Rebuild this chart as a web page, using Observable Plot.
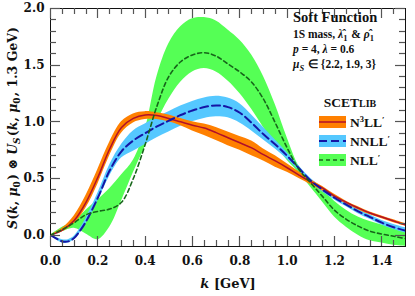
<!DOCTYPE html>
<html><head><meta charset="utf-8">
<script src="https://cdn.jsdelivr.net/npm/d3@7"></script>
<script src="https://cdn.jsdelivr.net/npm/@observablehq/plot@0.6"></script>
<style>
html,body{margin:0;padding:0;background:#fff;}
#wrap{position:relative;width:415px;height:296px;}
#wrap svg{position:absolute;left:0;top:0;}
</style></head><body><div id="wrap"></div>
<script>
// k grid (GeV)
const kGrid = [0,0.05,0.1,0.15,0.2,0.25,0.3,0.35,0.4,0.45,0.5,0.55,0.6,0.65,0.7,0.75,0.8,0.85,0.9,0.95,1.0,1.05,1.1,1.15,1.2,1.25,1.3,1.35,1.4,1.45,1.5];
// N3LL' central and band
const n3ll   = [0,0.045,0.13,0.29,0.51,0.76,0.95,1.03,1.06,1.055,1.03,1.0,0.97,0.945,0.905,0.86,0.815,0.77,0.71,0.655,0.595,0.53,0.47,0.415,0.345,0.29,0.24,0.195,0.16,0.125,0.09];
const n3llLo = [0,0.03,0.10,0.24,0.45,0.70,0.90,0.99,1.02,1.02,1.0,0.965,0.92,0.88,0.835,0.79,0.75,0.70,0.655,0.60,0.555,0.50,0.445,0.39,0.33,0.275,0.225,0.18,0.145,0.11,0.08];
const n3llHi = [0,0.06,0.17,0.35,0.58,0.82,1.0,1.07,1.09,1.08,1.06,1.03,1.0,0.98,0.95,0.91,0.87,0.83,0.76,0.70,0.63,0.56,0.49,0.43,0.36,0.30,0.25,0.205,0.17,0.135,0.10];
// NLL' central and band
const nll   = [0,0.05,0.11,0.18,0.21,0.23,0.29,0.50,0.80,1.14,1.40,1.53,1.59,1.61,1.58,1.51,1.44,1.35,1.20,0.99,0.77,0.58,0.46,0.34,0.22,0.14,0.08,0.035,0.01,-0.01,-0.03];
const nllLo = [0,0.03,0.06,0.01,-0.04,0.07,0.30,0.55,0.78,1.00,1.20,1.35,1.44,1.47,1.44,1.36,1.25,1.11,0.95,0.80,0.66,0.55,0.42,0.29,0.16,0.07,0.0,-0.05,-0.07,-0.09,-0.10];
const nllHi = [0,0.07,0.12,0.22,0.31,0.41,0.53,0.66,0.93,1.40,1.69,1.84,1.91,1.92,1.89,1.81,1.72,1.59,1.40,1.15,0.86,0.61,0.49,0.40,0.30,0.22,0.16,0.12,0.09,0.06,0.04];
// NNLL' grid, central and band
const kBlue  = [0,0.025,0.05,0.075,0.1,0.125,0.15,0.2,0.25,0.3,0.35,0.4,0.45,0.5,0.55,0.6,0.65,0.7,0.75,0.8,0.85,0.9,0.95,1.0,1.05,1.1,1.15,1.2,1.25,1.3,1.35,1.4,1.45,1.5];
const nnll   = [0,-0.03,-0.055,-0.055,-0.025,0.04,0.12,0.33,0.57,0.74,0.835,0.90,0.96,1.01,1.06,1.10,1.13,1.145,1.13,1.08,0.99,0.89,0.80,0.70,0.59,0.48,0.40,0.33,0.27,0.21,0.16,0.11,0.07,0.04];
const nnllLo = [0,-0.04,-0.07,-0.07,-0.04,0.02,0.10,0.30,0.52,0.68,0.74,0.80,0.86,0.91,0.96,1.0,1.03,1.045,1.035,0.99,0.92,0.84,0.76,0.67,0.57,0.46,0.38,0.31,0.25,0.19,0.14,0.09,0.05,0.02];
const nnllHi = [0,-0.02,-0.04,-0.04,-0.01,0.06,0.15,0.37,0.62,0.80,0.92,0.98,1.04,1.09,1.14,1.18,1.21,1.225,1.21,1.16,1.06,0.95,0.84,0.73,0.61,0.50,0.42,0.35,0.29,0.23,0.18,0.13,0.095,0.065];
// ticks
const xMajor = [0,0.2,0.4,0.6,0.8,1.0,1.2,1.4];
const xMinor = [0.05,0.1,0.15,0.25,0.3,0.35,0.45,0.5,0.55,0.65,0.7,0.75,0.85,0.9,0.95,1.05,1.1,1.15,1.25,1.3,1.35,1.45];
const yMajor = [0,0.5,1.0,1.5,2.0];
const yMinor = [0.1,0.2,0.3,0.4,0.6,0.7,0.8,0.9,1.1,1.2,1.3,1.4,1.6,1.7,1.8,1.9];

const rows = (ks, v, lo, hi) => ks.map((k, i) => ({k, v: v[i], lo: lo[i], hi: hi[i]}));
const n3llRows = rows(kGrid, n3ll, n3llLo, n3llHi);
const nllRows = rows(kGrid, nll, nllLo, nllHi);
const nnllRows = rows(kBlue, nnll, nnllLo, nnllHi);
const curve = "catmull-rom";
const tickColor = "#555";

const W = 415, H = 296, mL = 50, mR = 10, mT = 8, mB = 50;
const minorLen = 6, majorLen = 10;

const chart = Plot.plot({
  width: W, height: H,
  marginLeft: mL, marginRight: mR, marginTop: mT, marginBottom: mB,
  x: {domain: [0, 1.5]},
  y: {domain: [-0.1, 2.0]},
  style: {fontFamily: "DejaVu Serif", fontWeight: "bold", fontSize: "12px", background: "white", color: "#111"},
  marks: [
    Plot.areaY(nllRows, {x: "k", y1: "lo", y2: "hi", fill: "#55ff55", curve, clip: true}),
    Plot.areaY(nnllRows, {x: "k", y1: "lo", y2: "hi", fill: "#55c8ff", curve, clip: true}),
    Plot.areaY(n3llRows, {x: "k", y1: "lo", y2: "hi", fill: "#ff8000", curve, clip: true}),
    Plot.line(n3llRows, {x: "k", y: "v", stroke: "#b0102a", strokeWidth: 1.5, curve, clip: true}),
    Plot.line(nnllRows, {x: "k", y: "v", stroke: "#1515a5", strokeWidth: 2, strokeDasharray: "8,4", curve, clip: true}),
    Plot.line(nllRows, {x: "k", y: "v", stroke: "#17661a", strokeWidth: 1.6, strokeDasharray: "4,3", curve, clip: true}),
    Plot.axisX({anchor: "bottom", ticks: xMajor, tickSize: 0, tickPadding: 10, tickFormat: d => d.toFixed(1), label: null, fontSize: 12}),
    Plot.axisY({anchor: "left", ticks: yMajor, tickSize: 0, tickPadding: 6, tickFormat: d => d.toFixed(1), label: null, fontSize: 12}),
    Plot.frame({stroke: "#111", strokeWidth: 1})
  ]
});
const wrap = d3.select("#wrap");
wrap.node().appendChild(chart);

// overlay: inward ticks (through Plot's scales), labels, annotation and legend
const sx = chart.scale("x"), sy = chart.scale("y");
const [fx0, fx1] = sx.range, [fy0, fy1] = sy.range; // fy0 bottom, fy1 top
const ov = wrap.append("svg").attr("width", W).attr("height", H)
  .style("font-family", "DejaVu Serif").style("font-weight", "bold").attr("fill", "#111");

const px = v => Math.round(v) + 0.5;
const xTicks = (vals, len) => vals.forEach(v => {
  const x = px(sx.apply(v));
  ov.append("line").attr("x1", x).attr("x2", x).attr("y1", fy0).attr("y2", fy0 - len).attr("stroke", tickColor).attr("stroke-width", 1.2);
  ov.append("line").attr("x1", x).attr("x2", x).attr("y1", fy1).attr("y2", fy1 + len).attr("stroke", tickColor).attr("stroke-width", 1.2);
});
const yTicks = (vals, len) => vals.forEach(v => {
  const y = px(sy.apply(v));
  ov.append("line").attr("y1", y).attr("y2", y).attr("x1", fx0).attr("x2", fx0 + len).attr("stroke", tickColor).attr("stroke-width", 1.2);
  ov.append("line").attr("y1", y).attr("y2", y).attr("x1", fx1).attr("x2", fx1 - len).attr("stroke", tickColor).attr("stroke-width", 1.2);
});
xTicks(xMinor, minorLen); xTicks(xMajor, majorLen);
yTicks(yMinor, minorLen); yTicks(yMajor, majorLen);

const sub = (t, s, italic, size) => {
  t.append("tspan").attr("font-size", size || 9).attr("dy", 3).attr("font-style", italic ? "italic" : null).text(s);
  t.append("tspan").attr("dy", -3).text("\u200a");
};

// x label
const xl = ov.append("text").attr("x", 228).attr("y", 288).attr("text-anchor", "middle").attr("font-size", 13);
xl.append("tspan").attr("font-style", "italic").text("k");
xl.append("tspan").text(" [GeV]");

// y label
const yl = ov.append("text").attr("transform", "translate(17,128) rotate(-90)").attr("text-anchor", "middle").attr("font-size", 12.5);
yl.append("tspan").attr("font-style", "italic").text("S");
yl.append("tspan").text("(");
yl.append("tspan").attr("font-style", "italic").text("k");
yl.append("tspan").text(", ");
yl.append("tspan").attr("font-style", "italic").text("\u03bc");
sub(yl, "0");
yl.append("tspan").text(") \u2297 ");
yl.append("tspan").attr("font-style", "italic").text("U");
sub(yl, "S", true);
yl.append("tspan").text("(");
yl.append("tspan").attr("font-style", "italic").text("k");
yl.append("tspan").text(", ");
yl.append("tspan").attr("font-style", "italic").text("\u03bc");
sub(yl, "0");
yl.append("tspan").text(", 1.3 GeV)");

// annotation
const ax = 293;
const ann = ov.append("g").style("font-family", "'Liberation Serif', serif");
ann.append("text").attr("x", ax).attr("y", 22).attr("font-size", 14.5).text("Soft Function");
const l2 = ann.append("text").attr("x", ax).attr("y", 38).attr("font-size", 11.5);
l2.append("tspan").text("1S mass, ");
l2.append("tspan").attr("font-style", "italic").text("\u03bb\u0302");
sub(l2, "1", false, 8.5);
l2.append("tspan").text(" & ");
l2.append("tspan").attr("font-style", "italic").text("\u03c1\u0302");
sub(l2, "1", false, 8.5);
const l3 = ann.append("text").attr("x", ax).attr("y", 53).attr("font-size", 11.5);
l3.append("tspan").attr("font-style", "italic").text("p");
l3.append("tspan").text(" = 4, ");
l3.append("tspan").attr("font-style", "italic").text("\u03bb");
l3.append("tspan").text(" = 0.6");
const l4 = ann.append("text").attr("x", ax).attr("y", 68).attr("font-size", 11.5);
l4.append("tspan").attr("font-style", "italic").text("\u03bc");
sub(l4, "S", true, 8.5);
l4.append("tspan").text(" \u2208 {2.2, 1.9, 3}");

// legend
const sc = ann.append("text").attr("x", 350).attr("y", 107).attr("text-anchor", "middle").attr("font-size", 13.5);
sc.append("tspan").text("SCET");
sc.append("tspan").attr("font-size", 10).text("LIB");

const legend = [
  {name: "N", sup: "3", rest: "LL", fill: "#ff8000", stroke: "#b0102a", dash: null, w: 1.5},
  {name: "NNLL", sup: null, rest: "", fill: "#55c8ff", stroke: "#1515a5", dash: "8,4", w: 2},
  {name: "NLL", sup: null, rest: "", fill: "#55ff55", stroke: "#17661a", dash: "4,3", w: 1.6}
];
const legY = [122, 141, 160];
legend.forEach((d, i) => {
  const cy = legY[i];
  ov.append("rect").attr("x", 319).attr("y", cy - 6).attr("width", 27).attr("height", 12).attr("fill", d.fill);
  ov.append("line").attr("x1", 319).attr("x2", 346).attr("y1", cy).attr("y2", cy)
    .attr("stroke", d.stroke).attr("stroke-width", d.w).attr("stroke-dasharray", d.dash);
  const t = ann.append("text").attr("x", 350).attr("y", cy + 4.5).attr("font-size", 13.5);
  t.append("tspan").text(d.name);
  if (d.sup) t.append("tspan").attr("font-size", 8.5).attr("dy", -5).text(d.sup);
  if (d.rest) t.append("tspan").attr("dy", d.sup ? 5 : 0).text(d.rest);
  t.append("tspan").attr("font-size", 9).attr("dy", -4).text("\u2032");
});
</script></body></html>
